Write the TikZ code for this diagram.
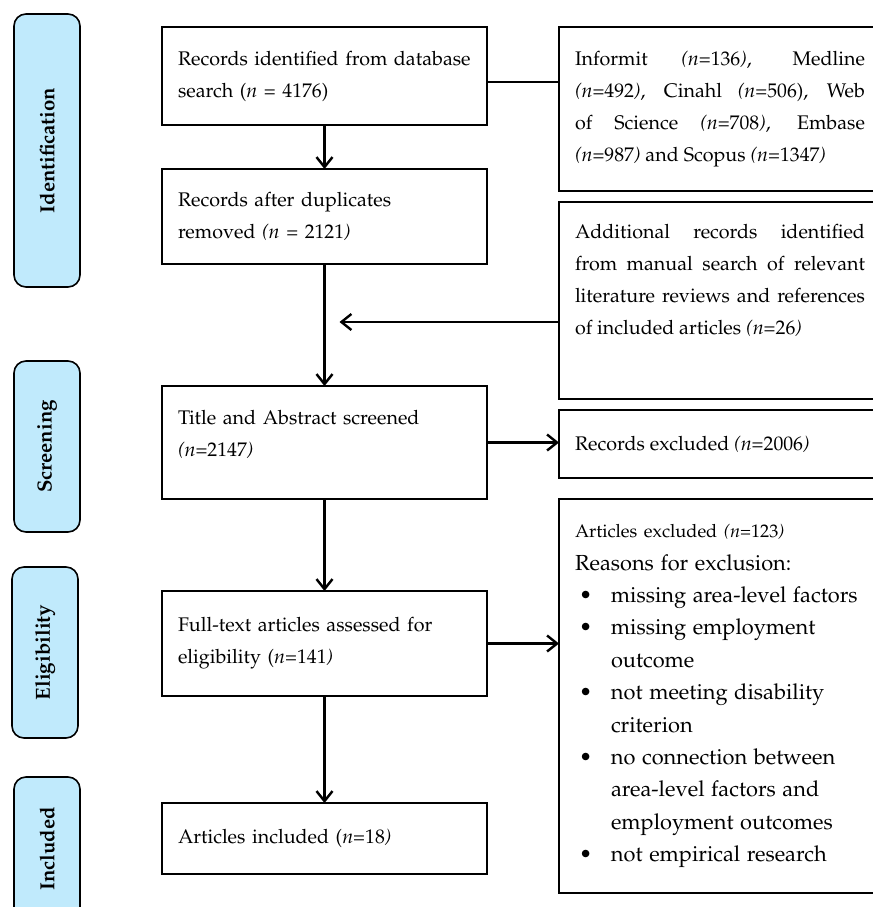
\documentclass[tikz,border=0pt]{standalone}
\usepackage[T1]{fontenc}
\usepackage{mathpazo}
\usepackage{tikz}
\usetikzlibrary{arrows.meta,calc,positioning}

\definecolor{stagefill}{RGB}{192,234,252}
\newcommand{\bul}{\makebox[18pt][l]{\hspace{2pt}\textbullet}}
\newcommand{\ind}{\hspace*{18pt}}

\begin{document}
\begin{tikzpicture}[x=0.5pt,y=-0.5pt,
  every node/.style={font=\fontsize{9.85}{16}\selectfont,outer sep=0pt},
  box/.style={draw,line width=0.6pt,minimum width=162.5pt,inner xsep=8pt,
              text width=146.5pt,align=left},
  side/.style={draw,line width=0.6pt,minimum width=161pt,inner xsep=8pt,
               text width=145pt,align=justify},
  stage/.style={draw,line width=0.8pt,fill=stagefill,rounded corners=6pt,
                rotate=90,minimum height=33pt,font=\fontsize{10.2}{12}\selectfont\bfseries},
  arr/.style={-{Straight Barb[length=5pt,width=8pt]},line width=1.2pt}
]
\useasboundingbox (0,0) rectangle (873,907);
\node[box,minimum height=49pt,anchor=north west] at (162,27) (search)
 {Records identified from database\\search (\textit{n} = 4176)};
\node[box,minimum height=47.5pt,below=22pt of search] (dedup)
 {Records after duplicates\\removed \textit{(n} = 2121\textit{)}};
\node[box,minimum height=56.5pt,text depth=25.5pt,below=61pt of dedup] (screen)
 {Title and Abstract screened\\\textit{(n}=2147\textit{)}};
\node[box,minimum height=52.5pt,below=46pt of screen] (fulltext)
 {Full-text articles assessed for\\eligibility (\textit{n}=141\textit{)}};
\node[box,minimum height=35.5pt,below=53.5pt of fulltext] (incl)
 {Articles included (\textit{n}=18\textit{)}};

\node[side,minimum height=82pt,anchor=north west] at (559,27) (dbs)
 {Informit \textit{(n}=136\textit{)}, Medline\linebreak
  \textit{(n}=492\textit{)}, Cinahl \textit{(n}=506), Web\linebreak
  of Science \textit{(n}=708\textit{)}, Embase\linebreak
  \textit{(n}=987\textit{)} and Scopus \textit{(n}=1347\textit{)}};
\node[side,minimum height=98.5pt,below=5.5pt of dbs] (manual)
 {Additional records identified\linebreak
  from manual search of relevant\linebreak
  literature reviews and references\linebreak
  of included articles \textit{(n}=26\textit{)}\\\strut};
\node[side,minimum height=34pt,below=5.5pt of manual] (recexcl)
 {Records excluded \textit{(n}=2006\textit{)}};
\node[side,minimum height=197pt,align=left,below=10.5pt of recexcl] (artexcl)
 {{\fontsize{9.1}{16}\selectfont Articles excluded \textit{(n}=123\textit{)}}\\
  \fontsize{10.9}{16.2}\selectfont
  Reasons for exclusion:\\
  \bul missing area-level factors\\
  \bul missing employment\\
  \ind outcome\\
  \bul not meeting disability\\
  \ind criterion\\
  \bul no connection between\\
  \ind area-level factors and\\
  \ind employment outcomes\\
  \bul not empirical research};

\node[stage,minimum width=136.5pt] at (47,150.5) (idn) {Identification};
\node[stage,minimum width=85.5pt] at (47,446.5) (scr) {Screening};
\node[stage,minimum width=85.5pt] at (45,652.5) (elig) {Eligibility};
\node[stage,minimum width=72pt] at (47,849) (inc) {Included};

\coordinate (jx) at ($(dedup.south)+(7.5pt,0)$);
\coordinate (jy) at ($(manual.north)+(0,-60pt)$);
\coordinate (join) at (jx |- jy);
\draw[arr] (search) -- (dedup);
\draw[line width=1.2pt] ([yshift=-3pt]search.east) -- ([yshift=-3pt]search.east -| dbs.west);
\draw[arr] (dedup) -- (screen);
\draw[arr] (manual.west |- join) -- (join);
\draw[arr] (screen) -- (screen.east -| recexcl.west);
\draw[arr] (screen) -- (fulltext);
\draw[arr] (fulltext) -- (fulltext.east -| artexcl.west);
\draw[arr] (fulltext) -- (incl);
\end{tikzpicture}
\end{document}
